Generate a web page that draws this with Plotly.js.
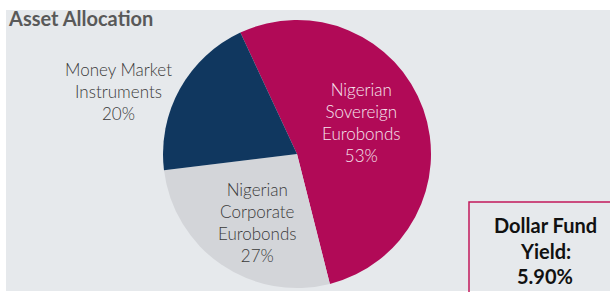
<!DOCTYPE html>
<html>
<head>
<meta charset="utf-8">
<script src="https://cdn.plot.ly/plotly-3.0.1.min.js"></script>
<style>html,body{margin:0;padding:0;background:#fff;}#chart{width:610px;height:292px;}</style>
</head>
<body>
<div id="chart"></div>
<script>
// Data
const categories = ['Nigerian Sovereign Eurobonds', 'Nigerian Corporate Eurobonds', 'Money Market Instruments'];
const labelLines = [['Nigerian', 'Sovereign', 'Eurobonds'], ['Nigerian', 'Corporate', 'Eurobonds'], ['Money Market', 'Instruments']];
const shares = [53, 27, 20];
const sliceColors = ['#b10a57', '#d3d5d9', '#10375f'];
const labelColors = ['#f6e4ee', '#3a3a3a', '#3a3a3a'];
const chartTitle = 'Asset Allocation';
const yieldLines = ['Dollar Fund', 'Yield:', '5.90%'];

const W = 610, H = 292;
const px = x => x / W;
const py = y => 1 - y / H;

// label anchor positions (pixels)
const labelPos = [[362, 122], [257, 222], [118, 91]];

const annotations = [];
categories.forEach((c, i) => {
  annotations.push({
    xref: 'paper', yref: 'paper', x: px(labelPos[i][0]), y: py(labelPos[i][1]),
    xanchor: 'center', yanchor: 'middle', showarrow: false, align: 'center',
    text: labelLines[i].join('<br>') + '<br>' + shares[i] + '%',
    font: {family: 'Lato', size: 17, weight: 300, color: labelColors[i]}
  });
});
const yieldY = [225, 251, 276];
yieldLines.forEach((t, i) => {
  annotations.push({
    xref: 'paper', yref: 'paper', x: px(545), y: py(yieldY[i]),
    xanchor: 'center', yanchor: 'middle', showarrow: false,
    text: '<b>' + t + '</b>',
    font: {family: 'Lato', size: 20, color: '#111111'}
  });
});
annotations.push({
  xref: 'paper', yref: 'paper', x: px(6), y: py(18), xanchor: 'left', yanchor: 'middle',
  showarrow: false, text: '<b>' + chartTitle + '</b>',
  font: {family: 'Lato', size: 20, color: '#595959'}
});

const R = 134, cx = 297, cy = 154;
const trace = {
  type: 'pie',
  labels: categories,
  values: shares,
  sort: false,
  direction: 'clockwise',
  rotation: -25,
  textinfo: 'none',
  hoverinfo: 'label+percent',
  marker: {colors: sliceColors, line: {width: 0}},
  domain: {x: [px(cx - R), px(cx + R)], y: [py(cy + R), py(cy - R)]},
  showlegend: false
};

const layout = {
  width: W, height: H,
  margin: {l: 0, r: 0, t: 0, b: 0},
  paper_bgcolor: '#ffffff',
  showlegend: false,
  shapes: [
    {type: 'rect', xref: 'paper', yref: 'paper', x0: px(6), x1: 1, y0: py(291), y1: py(10),
     fillcolor: '#e6e9ec', line: {width: 0}, layer: 'below'},
    {type: 'rect', xref: 'paper', yref: 'paper', x0: px(469), x1: px(612), y0: py(300), y1: py(202),
     fillcolor: 'rgba(0,0,0,0)', line: {color: '#c2185b', width: 1.5}, layer: 'above'}
  ],
  annotations: annotations
};

Plotly.newPlot('chart', [trace], layout, {displayModeBar: false, staticPlot: true});
</script>
</body>
</html>
